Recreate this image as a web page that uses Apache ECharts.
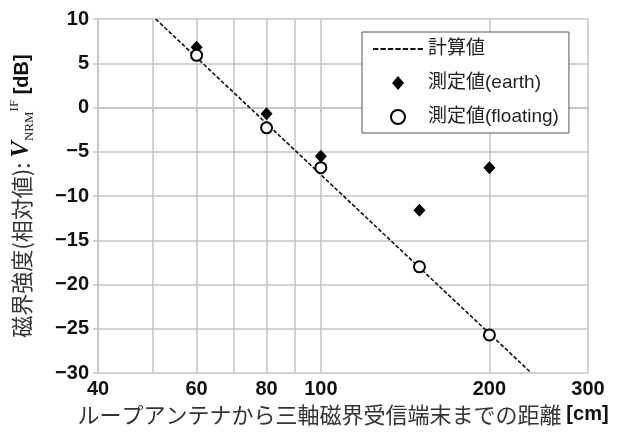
<!DOCTYPE html>
<html>
<head>
<meta charset="utf-8">
<script src="https://cdn.jsdelivr.net/npm/echarts@6/dist/echarts.min.js"></script>
<style>
  html, body { margin: 0; padding: 0; background: #fff; }
  #main { width: 620px; height: 437px; }
</style>
</head>
<body>
<div id="main"></div>
<script>
// distances [cm]
var distance = [60, 80, 100, 150, 200];
// measured values [dB]
var earth = [6.8, -0.7, -5.5, -11.6, -6.8];
var floating = [5.9, -2.3, -6.8, -18.0, -25.7];
// calculated line (end points)
var calcDistance = [50.7, 237.6];
var calcValue = [10, -30];
// axis ticks
var xLabelTicks = [40, 60, 80, 100, 200, 300];
var xGridTicks = [40, 50, 60, 70, 80, 90, 100, 200, 300];

var seriesNames = ['計算値', '測定値(earth)', '測定値(floating)'];

function pairs(xs, ys) {
  return xs.map(function (x, i) { return [x, ys[i]]; });
}

var chartDom = document.getElementById('main');
var myChart = echarts.init(chartDom, null, { renderer: 'canvas' });

var labelFont = 'Liberation Sans, Arial, sans-serif';
var jpFont = 'Liberation Sans, Noto Sans CJK JP, sans-serif';
var gridColor = '#c4c4c4';

// legend icons: dashed line and a diamond that keeps its aspect
var dashIcon = 'path://M0,0h5v2h-5z M7,0h5v2h-5z M14,0h5v2h-5z M21,0h5v2h-5z M28,0h5v2h-5z M35,0h5v2h-5z M42,0h5v2h-5z';
var diamondIcon = 'path://M6,0L12,7L6,14L0,7Z';

var option = {
  animation: false,
  backgroundColor: '#fff',
  grid: {
    left: 98,
    top: 19,
    right: 32,
    bottom: 64,
    containLabel: false,
    outerBoundsMode: 'none'
  },
  legend: {
    orient: 'vertical',
    left: 362,
    top: 32,
    padding: [7, 10, 6, 11],
    itemWidth: 50,
    itemHeight: 14,
    itemGap: 14,
    symbolKeepAspect: true,
    backgroundColor: '#fff',
    borderColor: '#555',
    borderWidth: 1,
    borderRadius: 0,
    textStyle: {
      fontFamily: jpFont,
      fontSize: 19,
      lineHeight: 20,
      color: '#222'
    },
    data: [
      { name: seriesNames[0], icon: dashIcon, itemStyle: { color: '#111' } },
      { name: seriesNames[1], icon: diamondIcon },
      { name: seriesNames[2] }
    ]
  },
  xAxis: {
    type: 'log',
    logBase: 10,
    min: 40,
    max: 300,
    name: 'ループアンテナから三軸磁界受信端末までの距離 {b|[cm]}',
    nameLocation: 'middle',
    nameGap: 26,
    nameTextStyle: {
      fontFamily: 'Noto Sans CJK JP',
      fontSize: 22,
      color: '#333',
      rich: {
        b: { fontFamily: labelFont, fontWeight: 'bold', fontSize: 20, color: '#111' }
      }
    },
    axisLine: { show: true, lineStyle: { color: gridColor, width: 1.5 } },
    axisTick: { show: true, length: 5, customValues: xGridTicks, lineStyle: { color: gridColor, width: 1.5 } },
    minorTick: { show: false },
    axisLabel: {
      customValues: xLabelTicks,
      margin: 6,
      fontFamily: labelFont,
      fontWeight: 'bold',
      fontSize: 20,
      color: '#111',
      formatter: function (v) { return String(Math.round(v)); }
    },
    splitLine: { show: true, lineStyle: { color: gridColor, width: 1.5 } },
    minorSplitLine: { show: false }
  },
  yAxis: {
    type: 'value',
    min: -30,
    max: 10,
    interval: 5,
    name: '{j|磁界強度(相対値): }{v|V}{s|NRM}{p|IF}{b| [dB]}',
    nameLocation: 'middle',
    nameGap: 62,
    nameTextStyle: {
      fontFamily: 'Noto Sans CJK JP',
      fontSize: 22,
      color: '#333',
      rich: {
        j: { fontFamily: 'Noto Sans CJK JP', fontSize: 22, color: '#333', lineHeight: 28 },
        v: { fontFamily: 'Liberation Serif', fontStyle: 'italic', fontWeight: 'bold', fontSize: 25, color: '#111', lineHeight: 28 },
        s: { fontFamily: 'Liberation Serif', fontSize: 13, color: '#222', lineHeight: 14, verticalAlign: 'bottom' },
        p: { fontFamily: 'Liberation Serif', fontSize: 13, color: '#222', lineHeight: 14, verticalAlign: 'top' },
        b: { fontFamily: labelFont, fontWeight: 'bold', fontSize: 20, color: '#111', lineHeight: 28 }
      }
    },
    axisLine: { show: true, lineStyle: { color: gridColor, width: 1.5 } },
    axisTick: { show: true, length: 5, lineStyle: { color: gridColor, width: 1.5 } },
    axisLabel: {
      margin: 9,
      fontFamily: labelFont,
      fontWeight: 'bold',
      fontSize: 20,
      color: '#111',
      formatter: function (v) { return v < 0 ? '\u2212' + Math.abs(v) : String(v); }
    },
    splitLine: { show: true, lineStyle: { color: gridColor, width: 1.5 } }
  },
  series: [
    {
      name: seriesNames[0],
      type: 'line',
      data: pairs(calcDistance, calcValue),
      symbol: 'none',
      lineStyle: { color: '#111', width: 1.6, type: [4, 2] },
      itemStyle: { color: '#111' },
      z: 2
    },
    {
      name: seriesNames[1],
      type: 'scatter',
      data: pairs(distance, earth),
      symbol: 'diamond',
      symbolSize: [12, 13],
      itemStyle: { color: '#000', opacity: 1 },
      z: 3
    },
    {
      name: seriesNames[2],
      type: 'scatter',
      data: pairs(distance, floating),
      symbol: 'circle',
      symbolSize: 11,
      itemStyle: { color: '#fff', borderColor: '#000', borderWidth: 2, opacity: 1 },
      z: 4
    }
  ]
};

myChart.setOption(option, true);
</script>
</body>
</html>
